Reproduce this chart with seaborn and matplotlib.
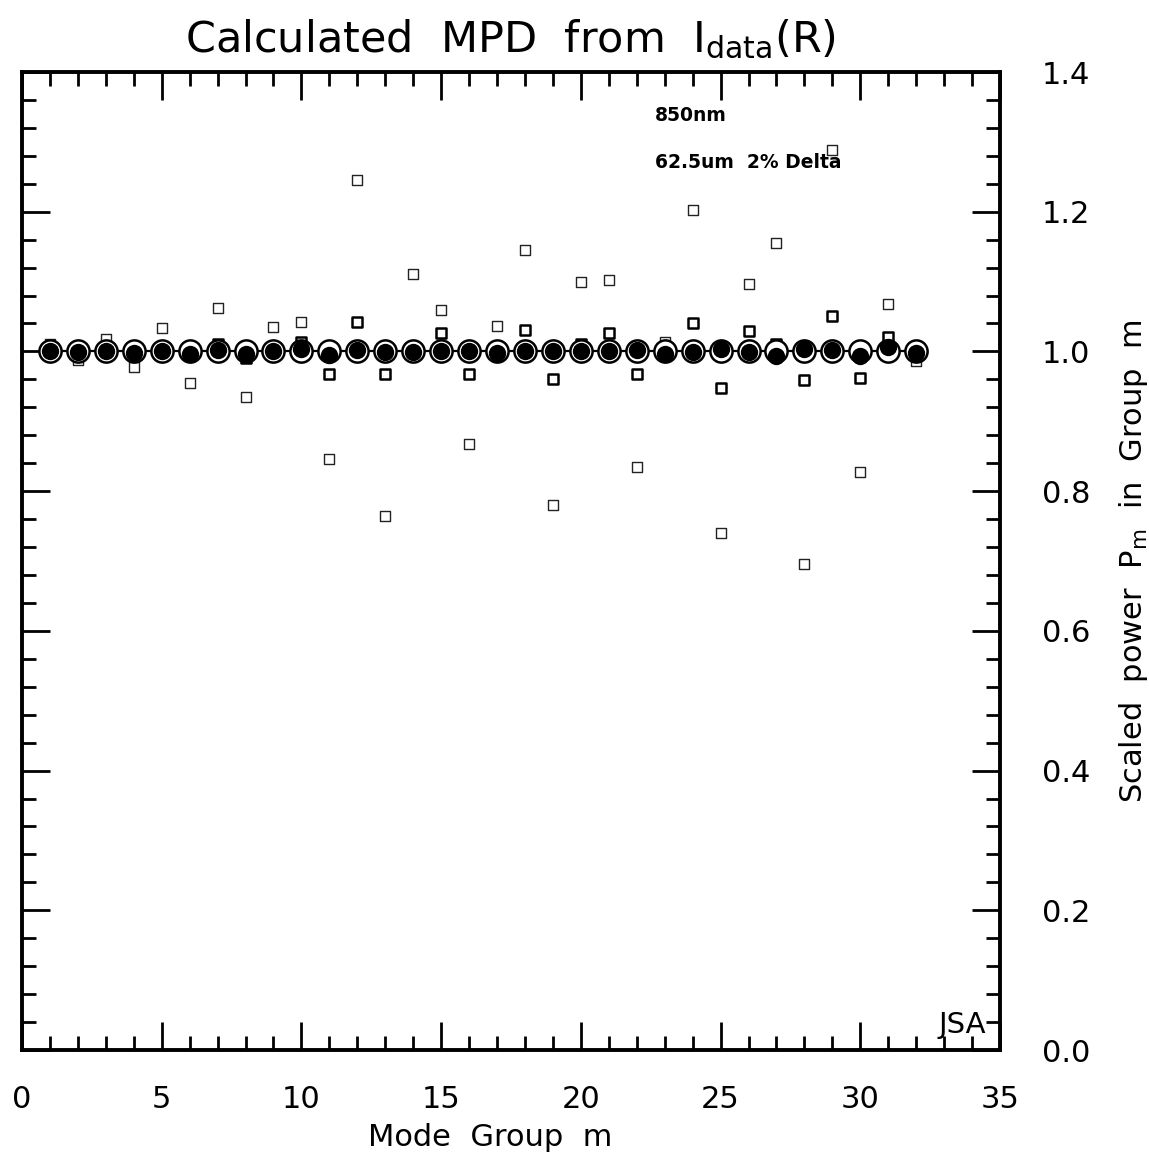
import numpy as np
import matplotlib
matplotlib.use('Agg')
import matplotlib.pyplot as plt
import seaborn as sns
from matplotlib.ticker import MultipleLocator


#----------------------------------------------------
# values
mode_group = list(range(1, 33))

# open circles (joined by the line)
p_open = [1.000, 1.000, 1.000, 1.000, 1.000, 1.000, 1.000, 1.000,
          1.000, 1.000, 1.000, 1.000, 1.000, 1.000, 1.000, 1.000,
          1.000, 1.000, 1.000, 1.000, 1.000, 1.000, 1.000, 1.000,
          1.000, 1.000, 1.000, 1.000, 1.000, 1.000, 1.000, 1.000]

# filled dots
p_filled = [1.001, 0.999, 1.000, 0.998, 1.001, 0.997, 1.002, 0.996,
            1.000, 1.003, 0.995, 1.002, 0.999, 0.999, 1.000, 1.000,
            0.998, 1.001, 1.000, 1.000, 1.000, 1.002, 0.997, 0.999,
            1.003, 0.999, 0.994, 1.003, 1.002, 0.993, 1.006, 0.998]

# thick squares (small scatter)
p_sq_thick = [1.002, 0.998, 1.003, 0.998, 1.004, 0.997, 1.011, 0.990,
              1.002, 1.013, 0.967, 1.042, 0.967, 1.004, 1.026, 0.967,
              1.006, 1.031, 0.960, 1.011, 1.026, 0.967, 0.996, 1.040,
              0.948, 1.029, 1.011, 0.959, 1.051, 0.962, 1.021, 0.998]

# thin squares (large scatter)
p_sq_thin = [1.011, 0.988, 1.018, 0.978, 1.034, 0.955, 1.062, 0.935,
             1.035, 1.042, 0.846, 1.245, 0.764, 1.111, 1.060, 0.867,
             1.036, 1.145, 0.780, 1.099, 1.102, 0.835, 1.013, 1.202,
             0.740, 1.096, 1.155, 0.696, 1.288, 0.827, 1.068, 0.986]


#----------------------------------------------------
def main():
    sns.set_style('white')
    plt.rcParams['font.family'] = ['DejaVu Sans']
    plt.rcParams['mathtext.fontset'] = 'dejavusans'
    for key in ('text.color', 'axes.labelcolor', 'xtick.color', 'ytick.color'):
        plt.rcParams[key] = 'black'

    W, H = 1149, 1167
    fig = plt.figure(figsize=(W / 100, H / 100), dpi=100)
    ax = fig.add_axes([22 / W, 1 - 1050 / H, 978 / W, 978 / H])

    sns.scatterplot(x=mode_group, y=p_sq_thin, marker='s', s=7.0 ** 2,
                    facecolor='white', edgecolor='#222222', linewidth=1.0,
                    ax=ax, zorder=2)
    sns.scatterplot(x=mode_group, y=p_sq_thick, marker='s', s=6.5 ** 2,
                    facecolor='white', edgecolor='black', linewidth=1.8,
                    ax=ax, zorder=2)
    sns.lineplot(x=mode_group, y=p_open, color='black', linewidth=1.6,
                 marker='o', markersize=16, markerfacecolor='white',
                 markeredgecolor='black', markeredgewidth=1.8,
                 ax=ax, zorder=3)
    sns.scatterplot(x=mode_group, y=p_filled, marker='o', s=12.5 ** 2,
                    color='black', edgecolor='black', linewidth=0,
                    ax=ax, zorder=4)

    ax.set_xlim(0, 35)
    ax.set_ylim(0, 1.4)
    ax.xaxis.set_major_locator(MultipleLocator(5))
    ax.xaxis.set_minor_locator(MultipleLocator(1))
    ax.yaxis.set_major_locator(MultipleLocator(0.2))
    ax.yaxis.set_minor_locator(MultipleLocator(0.04))
    ax.xaxis.set_major_formatter(plt.FuncFormatter(lambda v, p: f'{v:.0f}'))
    ax.yaxis.set_major_formatter(plt.FuncFormatter(lambda v, p: f'{v:.1f}'))

    for sp in ax.spines.values():
        sp.set_visible(True)
        sp.set_linewidth(2.8)
        sp.set_color('black')

    ax.tick_params(which='both', direction='in', top=True, bottom=True,
                   left=True, right=True, labelleft=False, labelright=True,
                   color='black', width=2.0)
    ax.tick_params(which='major', length=20, labelsize=22)
    ax.tick_params(which='minor', length=10)
    ax.tick_params(axis='x', which='major', pad=25)
    ax.tick_params(axis='y', which='major', pad=30)

    ax.set_title(r'Calculated  MPD  from  I$_{\mathregular{data}}$(R)',
                 fontsize=31, pad=14)
    ax.set_xlabel('Mode  Group  m', fontsize=22)
    ax.xaxis.set_label_coords(0.4785, -0.075)
    ax.yaxis.set_label_position('right')
    ax.set_ylabel(r'Scaled  power  P$_{\mathregular{m}}$  in  Group  m',
                  fontsize=22, rotation=90)
    ax.yaxis.set_label_coords(1.12, 0.5)

    ax.text(22.65, 1.338, '850nm', fontsize=13.5, fontweight='bold',
            ha='left', va='center')
    ax.text(22.65, 1.270, '62.5um  2% Delta', fontsize=13.5,
            fontweight='bold', ha='left', va='center')
    ax.text(34.5, 0.036, 'JSA', fontsize=21, ha='right', va='center')

    fig.savefig('out.png', dpi=100, facecolor='white')


#----------------------------------------------------
if __name__ == '__main__':
    main()
